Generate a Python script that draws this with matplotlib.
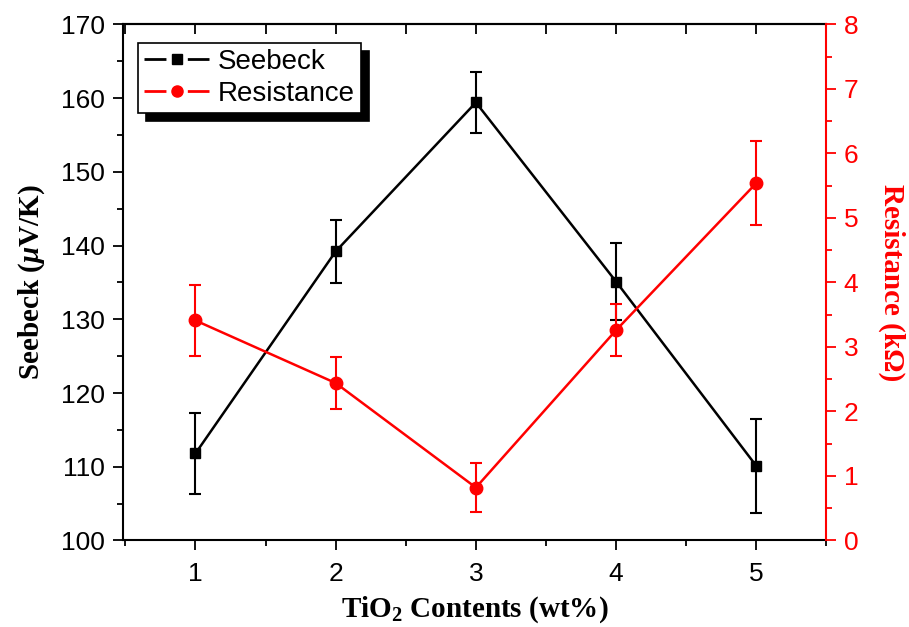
import matplotlib
matplotlib.use("Agg")
import matplotlib.pyplot as plt
from matplotlib.ticker import MultipleLocator
from matplotlib.lines import Line2D

plt.rcParams['font.family'] = ['Liberation Sans', 'DejaVu Sans']
plt.rcParams['mathtext.fontset'] = 'custom'
plt.rcParams['mathtext.rm'] = 'Liberation Serif:bold'
plt.rcParams['mathtext.it'] = 'Liberation Serif:italic:bold'
plt.rcParams['mathtext.bf'] = 'Liberation Serif:bold'
plt.rcParams['lines.scale_dashes'] = False

# Data
tio2 = [1, 2, 3, 4, 5]
seebeck = [111.8, 139.2, 159.4, 135.1, 110.1]
seebeck_err = [5.45, 4.3, 4.1, 5.2, 6.35]
resistance = [3.41, 2.44, 0.82, 3.26, 5.54]
resistance_err = [0.55, 0.40, 0.38, 0.40, 0.65]
x_ticks = [1, 2, 3, 4, 5]
series_names = ['Seebeck', 'Resistance']

RED = '#ff0000'

fig = plt.figure(figsize=(9.09, 6.27), dpi=100)
ax = fig.add_axes([0.1348, 0.138, 0.7744, 0.8232])
ax2 = ax.twinx()

ax.errorbar(tio2, seebeck, yerr=seebeck_err, color='black', marker='s',
            markersize=7.5, linewidth=1.8, elinewidth=1.5, capsize=4.5, capthick=1.5,
            zorder=3)
ax2.errorbar(tio2, resistance, yerr=resistance_err, color=RED, marker='o',
             markersize=9, linewidth=1.8, elinewidth=1.5, capsize=4.5, capthick=1.5,
             zorder=3)

ax.set_xlim(0.48, 5.5)
ax.set_ylim(100, 170)
ax2.set_ylim(0, 8)

ax.set_xticks(x_ticks)
ax.xaxis.set_minor_locator(MultipleLocator(0.5))
ax.yaxis.set_major_locator(MultipleLocator(10))
ax.yaxis.set_minor_locator(MultipleLocator(5))
ax2.yaxis.set_major_locator(MultipleLocator(1))
ax2.yaxis.set_minor_locator(MultipleLocator(0.5))

# bottom/left ticks outward
ax.tick_params(axis='both', which='major', direction='out', length=7.5, width=1.3,
               labelsize=19, pad=5)
ax.tick_params(axis='x', which='major', pad=8)
ax.tick_params(axis='both', which='minor', direction='out', length=4, width=1.3)
ax.tick_params(axis='y', which='both', right=False)
ax.tick_params(axis='x', which='both', top=False)

# top ticks inward via secondary x axis
axt = ax.secondary_xaxis('top')
axt.set_xticks(x_ticks)
axt.xaxis.set_minor_locator(MultipleLocator(0.5))
axt.tick_params(axis='x', which='both', direction='in', length=7, width=1.3,
                labeltop=False)
axt.spines['top'].set_linewidth(1.5)

ax2.tick_params(axis='y', which='major', direction='out', length=7.5, width=1.3,
                labelsize=19, colors=RED, pad=5)
ax2.tick_params(axis='y', which='minor', direction='out', length=4, width=1.3,
                colors=RED)

for s in ['left', 'bottom', 'top']:
    ax.spines[s].set_linewidth(1.5)
for s in ['left', 'bottom', 'top']:
    ax2.spines[s].set_visible(False)
ax2.spines['right'].set_color(RED)
ax2.spines['right'].set_linewidth(1.5)
ax.spines['right'].set_visible(False)

ax.set_xlabel('TiO$_2$ Contents (wt%)', fontsize=21, fontfamily='Liberation Serif',
              fontweight='bold', labelpad=6)
ax.set_ylabel('Seebeck ($\\mu$V/K)', fontsize=21, fontfamily='Liberation Serif',
              fontweight='bold', labelpad=10)
ax2.set_ylabel('Resistance (kΩ)', fontsize=21, fontfamily='Liberation Serif',
               fontweight='bold', color=RED, rotation=270, labelpad=34)

h1 = Line2D([], [], color='black', marker='s', markersize=7.5, linewidth=2,
            dashes=(15.8, 15.4))
h2 = Line2D([], [], color=RED, marker='o', markersize=8, linewidth=2,
            dashes=(15.8, 15.4))
leg = ax.legend(handles=[h1, h2], labels=series_names,
                loc='upper left', bbox_to_anchor=(0.022, 0.9638), fontsize=20,
                frameon=True, fancybox=False, edgecolor='black', framealpha=1,
                shadow={'ox': 6, 'oy': -6, 'color': 'black', 'alpha': 1},
                handlelength=2.34, borderpad=0.22, labelspacing=0.2,
                handletextpad=0.3, borderaxespad=0, numpoints=1)
leg.get_frame().set_linewidth(1.2)
leg.set_zorder(10)

fig.savefig('out.png', dpi=100)
